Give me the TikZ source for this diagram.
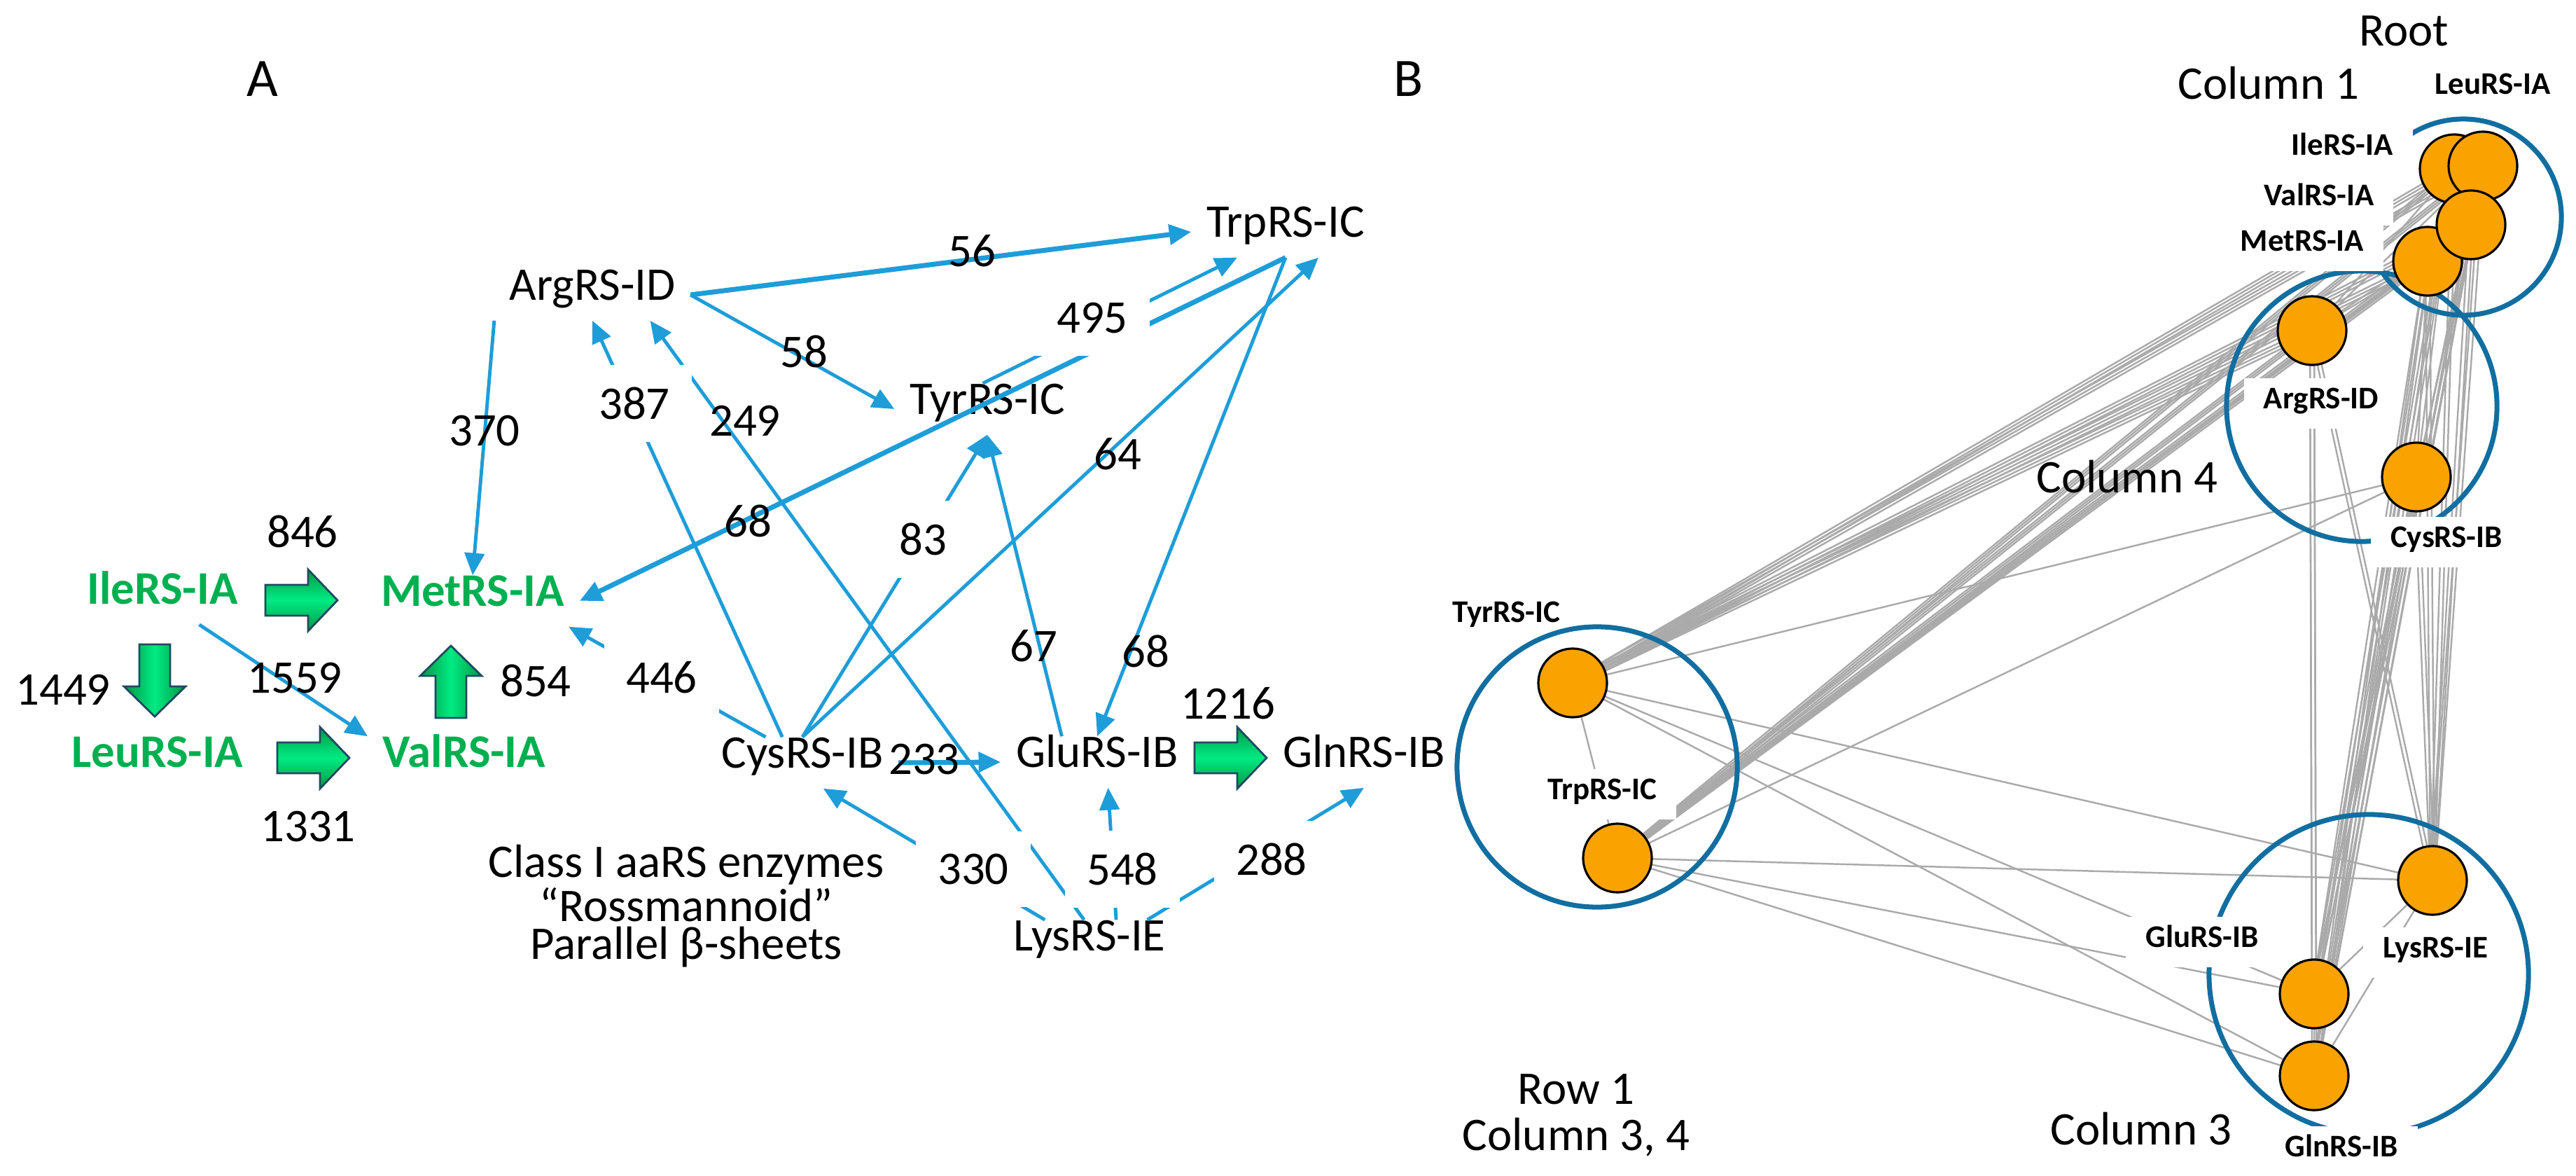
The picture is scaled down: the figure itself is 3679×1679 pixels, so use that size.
\documentclass[tikz,border=0pt]{standalone}
\usepackage{fontspec}
\setmainfont{Carlito}
\usetikzlibrary{arrows.meta}

\definecolor{azulseta}{RGB}{30,157,216}
\definecolor{verdetexto}{RGB}{0,176,80}
\definecolor{verdeesc}{RGB}{0,150,70}
\definecolor{verdeclaro}{RGB}{0,235,130}
\definecolor{bordaseta}{RGB}{30,75,95}
\definecolor{laranja}{RGB}{250,163,0}
\definecolor{azulgrupo}{RGB}{17,110,160}
\definecolor{cinza}{RGB}{170,170,170}

\pgfdeclarelayer{ligacoes}
\pgfdeclarelayer{grupos}
\pgfdeclarelayer{rotulos}
\pgfsetlayers{ligacoes,grupos,rotulos,main}

\tikzset{
    setaverde/.pic={
        \shade[top color=verdeesc, bottom color=verdeesc, middle color=verdeclaro, draw=bordaseta, line width=0.8pt]
            (0, -22) -- (61, -22) -- (61, -44) -- (103, 0) -- (61, 44) -- (61, 22) -- (0, 22) -- cycle;
    },
    setaverdev/.pic={
        \shade[left color=verdeesc, right color=verdeesc, middle color=verdeclaro, draw=bordaseta, line width=0.8pt]
            (-22, 0) -- (-22, 60) -- (-44, 60) -- (0, 103) -- (44, 60) -- (22, 60) -- (22, 0) -- cycle;
    },
}

\begin{document}
\begin{tikzpicture}[
                x=0.01cm, y=-0.01cm,
                enzima/.style={inner sep=6pt, text height=0.65em, text depth=0.2em, font=\fontsize{19}{23}\selectfont},
                verde/.style={enzima, text=verdetexto, font=\fontsize{19}{23}\selectfont\bfseries},
                texto/.style={inner sep=2pt, align=center, font=\fontsize{19}{15.5}\selectfont},
                peso/.style={inner sep=1pt, font=\fontsize{19}{23}\selectfont},
                pesobranco/.style={peso, fill=white, inner sep=9pt},
                seta/.style={draw=azulseta, line width=1.4pt, -{Triangle[length=9pt, width=8pt]}},
                setagrossa/.style={seta, line width=2pt},
                bola/.style={shape=circle, draw=black, line width=0.9pt, fill=laranja, minimum size=0.98cm, inner sep=0pt},
                grupo/.style={shape=circle, draw=azulgrupo, line width=2pt, inner sep=0pt},
                rot/.style={fill=white, inner xsep=8pt, inner ysep=6pt, text height=0.65em, text depth=0.2em, font=\fontsize{12.8}{15}\selectfont\bfseries},
                ligacao/.style={draw=cinza, line width=0.7pt},
                titulo/.style={font=\fontsize{22}{26}\selectfont},
                coluna/.style={font=\fontsize{19}{23}\selectfont},
            ]
            \useasboundingbox (0, 0) rectangle (3679, 1679);

            \node[titulo] (A) at (375, 113) {A};
            \node[titulo] (B) at (2012, 113) {B};

            \node[enzima] (arg) at (846, 421) {ArgRS-ID};
            \node[enzima] (trp) at (1836, 331) {TrpRS-IC};
            \node[enzima] (tyr) at (1410, 584) {TyrRS-IC};
            \node[verde] (met) at (675, 858) {MetRS-IA};
            \node[verde] (ile) at (232, 855) {IleRS-IA};
            \node[verde] (leu) at (225, 1088) {LeuRS-IA};
            \node[verde] (val) at (663, 1088) {ValRS-IA};
            \node[enzima] (cys) at (1146, 1089) {CysRS-IB};
            \node[enzima] (glu) at (1567, 1088) {GluRS-IB};
            \node[enzima] (gln) at (1948, 1088) {GlnRS-IB};
            \node[enzima] (lys) at (1556, 1350) {LysRS-IE};
            \node[texto] (classe) at (980, 1294)
                {Class I aaRS enzymes\\“Rossmannoid”\\Parallel β-sheets};

            \draw[setagrossa] (arg.east) -- (trp.west);
            \draw[seta] (arg.east) -- (tyr.west);
            \draw[seta] (arg.south west) -- (met.north);
            \draw[seta] (cys.128) -- (arg.south);
            \draw[seta] (lys.102) -- (arg.-24);
            \draw[seta] (tyr.100) -- (trp.-152);
            \draw[setagrossa] (trp.south) -- (met.east);
            \draw[seta] (cys.north) -- (trp.-38);
            \draw[seta] (cys.north) -- (tyr.south);
            \draw[seta] (glu.144) -- (tyr.south);
            \draw[seta] (trp.south) -- (glu.north);
            \draw[seta] (cys.145) -- (met.-15);
            \draw[seta] (ile.-35) -- (val.north west);
            \draw[setagrossa] (cys.east) -- (glu.west);
            \draw[seta] (lys.150) -- (cys.-51);
            \draw[seta] (lys.44) -- (glu.-67);
            \draw[seta] (lys.24) -- (gln.south);

            \pic at (379, 857) {setaverde};
            \pic at (396, 1082) {setaverde};
            \pic at (1706, 1082) {setaverde};
            \pic at (221, 920) {setaverdev};
            \pic[yscale=-1] at (644, 1025) {setaverdev};

            \node[peso] (w56) at (1388, 358) {56};
            \node[peso] (w58) at (1148, 502) {58};
            \node[peso] (w370) at (692, 615) {370};
            \node[pesobranco] (w387) at (906, 576) {387};
            \node[peso] (w249) at (1064, 601) {249};
            \node[pesobranco] (w495) at (1560, 454) {495};
            \node[peso] (w68a) at (1068, 744) {68};
            \node[pesobranco] (w83) at (1318, 770) {83};
            \node[peso] (w64) at (1596, 648) {64};
            \node[peso] (w67) at (1476, 922) {67};
            \node[peso] (w68b) at (1636, 930) {68};
            \node[pesobranco] (w446) at (945, 967) {446};
            \node[peso] (w854) at (765, 972) {854};
            \node[peso] (w846) at (432, 759) {846};
            \node[peso] (w1449) at (90, 985) {1449};
            \node[peso] (w1559) at (421, 968) {1559};
            \node[peso] (w1331) at (440, 1180) {1331};
            \node[peso] (w233) at (1320, 1084) {233};
            \node[peso] (w1216) at (1754, 1004) {1216};
            \node[pesobranco] (w330) at (1390, 1241) {330};
            \node[pesobranco] (w548) at (1603, 1241) {548};
            \node[pesobranco] (w288) at (1816, 1227) {288};

            \node[bola] (b-ile) at (3505, 241) {};
            \node[bola] (b-leu) at (3546, 237) {};
            \node[bola] (b-met) at (3467, 373) {};
            \node[bola] (b-val) at (3529, 321) {};
            \node[bola] (b-arg) at (3302, 472) {};
            \node[bola] (b-cys) at (3451, 681) {};
            \node[bola] (b-tyr) at (2246, 975) {};
            \node[bola] (b-trp) at (2310, 1225) {};
            \node[bola] (b-lys) at (3474, 1257) {};
            \node[bola] (b-glu) at (3305, 1419) {};
            \node[bola] (b-gln) at (3305, 1536) {};

            \begin{pgfonlayer}{ligacoes}
                \foreach \n in {ile, leu, val, met, arg} {
                    \foreach \d in {-0.05, 0, 0.05} {
                        \draw[ligacao] ([yshift=\d cm]b-tyr.center) -- ([yshift=\d cm]b-\n.center);
                        \draw[ligacao] ([xshift=\d cm]b-trp.center) -- ([xshift=\d cm]b-\n.center);
                    }
                }
                \foreach \n in {cys, lys, glu, gln} {
                    \draw[ligacao] (b-tyr.center) -- (b-\n.center);
                    \draw[ligacao] (b-trp.center) -- (b-\n.center);
                }
                \foreach \a in {ile, leu, val, met, arg, cys} {
                    \foreach \b in {lys, glu, gln} {
                        \draw[ligacao] ([xshift=-0.03cm]b-\a.center) -- ([xshift=-0.03cm]b-\b.center);
                        \draw[ligacao] ([xshift=0.03cm]b-\a.center) -- ([xshift=0.03cm]b-\b.center);
                    }
                }
                \foreach \a in {ile, leu, val, met} {
                    \draw[ligacao] (b-\a.center) -- (b-arg.center);
                    \draw[ligacao] (b-\a.center) -- (b-cys.center);
                }
                \draw[ligacao] (b-tyr.center) -- (b-trp.center);
                \draw[ligacao] (b-lys.center) -- (b-glu.center);
                \draw[ligacao] (b-lys.center) -- (b-gln.center);
                \draw[ligacao] (b-glu.center) -- (b-gln.center);
            \end{pgfonlayer}

            \begin{pgfonlayer}{grupos}
                \node[grupo, minimum size=2.8cm] (col1) at (3518, 310) {};
                \node[grupo, minimum size=3.86cm] (col4) at (3373, 580) {};
                \node[grupo, minimum size=4.56cm] (col3) at (3383, 1391) {};
                \node[grupo, minimum size=4cm] (row1) at (2281, 1095) {};
            \end{pgfonlayer}

            \begin{pgfonlayer}{rotulos}
                \node[rot] (l-leu) at (3560, 127) {LeuRS-IA};
                \node[rot] (l-ile) at (3345, 214) {IleRS-IA};
                \node[rot] (l-val) at (3312, 286) {ValRS-IA};
                \node[rot] (l-met) at (3288, 351) {MetRS-IA};
                \node[rot] (l-arg) at (3315, 576) {ArgRS-ID};
                \node[rot] (l-cys) at (3494, 774) {CysRS-IB};
                \node[rot, fill=none] (l-tyr) at (2151, 881) {TyrRS-IC};
                \node[rot] (l-trp) at (2288, 1134) {TrpRS-IC};
                \node[rot] (l-glu) at (3145, 1345) {GluRS-IB};
                \node[rot] (l-lys) at (3478, 1360) {LysRS-IE};
                \node[rot] (l-gln) at (3344, 1644) {GlnRS-IB};
            \end{pgfonlayer}

            \node[coluna] (raiz) at (3433, 44) {Root};
            \node[coluna] (c1) at (3240, 119) {Column 1};
            \node[coluna] (c4) at (3038, 681) {Column 4};
            \node[coluna] (c3) at (3058, 1612) {Column 3};
            \node[coluna, align=center, font=\fontsize{19}{18.8}\selectfont] (linha) at (2251, 1592) {Row 1\\Column 3, 4};
        \end{tikzpicture}
\end{document}
